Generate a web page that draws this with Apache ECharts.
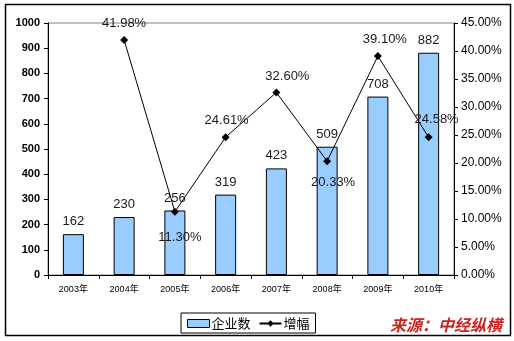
<!DOCTYPE html>
<html>
<head>
<meta charset="utf-8">
<script src="https://cdn.jsdelivr.net/npm/echarts@6/dist/echarts.min.js"></script>
<style>
html,body{margin:0;padding:0;background:#fff;}
#chart{width:514px;height:341px;}
</style>
</head>
<body>
<div id="chart"></div>
<script>
// Enterprise count by year and year-on-year growth rate
const years = ['2003年', '2004年', '2005年', '2006年', '2007年', '2008年', '2009年', '2010年'];
const companyCount = [162, 230, 256, 319, 423, 509, 708, 882];
const growthRate = [null, 41.98, 11.30, 24.61, 32.60, 20.33, 39.10, 24.58];
const countTicks = [0, 1000, 100];
const rateTicks = [0, 45, 5];

// label placement for each growth point: [position, distance, dx]
const rateLabelPlace = [
  ['top', 6, 0], ['top', 6, 0], ['bottom', 15, 5], ['top', 6, 1],
  ['top', 6, 11], ['bottom', 11, 6], ['top', 6, 7], ['top', 7, 8]
];

const textColor = '#1a1a1a';
const chart = echarts.init(document.getElementById('chart'), null, { renderer: 'canvas' });

const rateData = growthRate.map((v, i) => ({
  value: v,
  label: {
    position: rateLabelPlace[i][0],
    distance: rateLabelPlace[i][1],
    offset: [rateLabelPlace[i][2], 0]
  }
}));

chart.setOption({
  animation: false,
  backgroundColor: '#fff',
  grid: {
    left: 48, right: 60, top: 23, bottom: 66,
    show: true, borderColor: '#808080', borderWidth: 1, backgroundColor: 'transparent'
  },
  legend: {
    left: 181, top: 313,
    padding: [4, 6, 3, 6],
    itemGap: 8,
    itemWidth: 22, itemHeight: 8,
    borderColor: '#000', borderWidth: 1,
    textStyle: { fontFamily: 'Noto Sans CJK SC', fontSize: 13, color: '#000', padding: [0, 0, 0, -3] },
    data: [
      { name: '企业数', icon: 'rect', itemStyle: { color: '#99CCFF', borderColor: '#000', borderWidth: 1 } },
      { name: '增幅' }
    ]
  },
  xAxis: {
    type: 'category',
    data: years,
    boundaryGap: true,
    axisLine: { lineStyle: { color: '#000', width: 1 } },
    axisTick: { show: true, length: 4, lineStyle: { color: '#000' } },
    axisLabel: { fontFamily: 'Liberation Sans, Noto Sans CJK SC', fontSize: 9, color: '#000', margin: 10 }
  },
  yAxis: [
    {
      type: 'value',
      min: countTicks[0], max: countTicks[1], interval: countTicks[2],
      axisLine: { show: true, lineStyle: { color: '#000', width: 1 } },
      axisTick: { show: true, length: 4, lineStyle: { color: '#000' } },
      splitLine: { show: false },
      axisLabel: {
        fontFamily: 'Liberation Sans', fontSize: 11, fontWeight: 'bold', color: '#000', margin: 8,
        formatter: v => String(v)
      }
    },
    {
      type: 'value',
      min: rateTicks[0], max: rateTicks[1], interval: rateTicks[2],
      position: 'right',
      axisLine: { show: true, lineStyle: { color: '#000', width: 1 } },
      axisTick: { show: true, length: 4, lineStyle: { color: '#000' } },
      splitLine: { show: false },
      axisLabel: {
        fontFamily: 'Liberation Sans', fontSize: 12, color: '#000', margin: 7,
        formatter: v => v.toFixed(2) + '%'
      }
    }
  ],
  series: [
    {
      name: '企业数',
      type: 'bar',
      yAxisIndex: 0,
      data: companyCount,
      barWidth: 21,
      itemStyle: { color: '#99CCFF', borderColor: '#000', borderWidth: 1 },
      label: {
        show: true, position: 'top', distance: 6,
        fontFamily: 'Liberation Sans', fontSize: 13, color: textColor
      },
      z: 2
    },
    {
      name: '增幅',
      type: 'line',
      yAxisIndex: 1,
      data: rateData,
      connectNulls: false,
      symbol: 'diamond',
      symbolSize: 8,
      lineStyle: { color: '#000', width: 1 },
      itemStyle: { color: '#000' },
      label: {
        show: true,
        fontFamily: 'Liberation Sans', fontSize: 13, color: textColor,
        formatter: p => p.value.toFixed(2) + '%'
      },
      z: 3
    }
  ],
  graphic: [
    {
      type: 'rect', silent: true,
      shape: { x: 5.5, y: 4.5, width: 505, height: 331 },
      style: { fill: 'none', stroke: '#000', lineWidth: 1.5 },
      z: 10
    },
    {
      type: 'text', left: 390, top: 317, silent: true,
      style: {
        text: '来源：中经纵横',
        font: 'italic bold 16px "Noto Sans CJK SC"',
        fill: '#CC2222'
      },
      z: 10
    }
  ]
});
</script>
</body>
</html>
